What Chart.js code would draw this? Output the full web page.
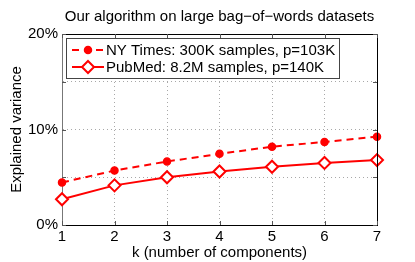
<!DOCTYPE html>
<html><head><meta charset="utf-8">
<script src="https://cdn.jsdelivr.net/npm/chart.js@4"></script>
<style>html,body{margin:0;padding:0;background:#fff}#wrap{width:415px;height:262px}</style>
</head><body><div id="wrap"><canvas id="c" width="415" height="262"></canvas></div>
<script>
const categories = [1, 2, 3, 4, 5, 6, 7];
const nyTimes = [4.45, 5.7, 6.65, 7.45, 8.2, 8.7, 9.25];
const pubMed = [2.7, 4.15, 5.0, 5.6, 6.1, 6.5, 6.8];
const seriesNames = ["NY Times: 300K samples, p=103K", "PubMed: 8.2M samples, p=140K"];
const yTickLabels = { 0: "0%", 10: "10%", 20: "20%" };
const titleText = "Our algorithm on large bag\u2212of\u2212words datasets";
const xTitle = "k (number of components)";
const yTitle = "Explained variance";
const FONT = "'Liberation Sans', Arial, sans-serif";
const FS = 15;

const framePlugin = {
  id: 'frame',
  afterDraw(chart) {
    const ctx = chart.ctx, a = chart.chartArea;
    ctx.save();
    ctx.lineWidth = 1;
    ctx.strokeStyle = '#000';
    ctx.beginPath();
    ctx.moveTo(a.left + 0.5, a.top + 0.5); ctx.lineTo(a.right + 0.5, a.top + 0.5);
    ctx.lineTo(a.right + 0.5, a.bottom + 0.5);
    ctx.stroke();
    const xs = chart.scales.x, ys = chart.scales.y;
    ctx.strokeStyle = '#555';
    ctx.beginPath();
    categories.forEach((c, i) => {
      const px = Math.round(xs.getPixelForValue(i)) + 0.5;
      ctx.moveTo(px, a.bottom); ctx.lineTo(px, a.bottom - 4);
      ctx.moveTo(px, a.top); ctx.lineTo(px, a.top + 4);
    });
    ys.ticks.forEach(t => {
      const py = Math.round(ys.getPixelForValue(t.value)) + 0.5;
      ctx.moveTo(a.left, py); ctx.lineTo(a.left + 4, py);
      ctx.moveTo(a.right, py); ctx.lineTo(a.right - 4, py);
    });
    ctx.stroke();
    ctx.fillStyle = '#000';
    ctx.font = FS + 'px ' + FONT;
    ctx.textAlign = 'center'; ctx.textBaseline = 'middle';
    ctx.fillText(titleText, (a.left + a.right) / 2, 17);
    const lx = 66, ly = 38, lw = 273, lh = 40;
    ctx.fillStyle = '#fff';
    ctx.fillRect(lx, ly, lw, lh);
    ctx.strokeStyle = '#444';
    ctx.strokeRect(lx + 0.5, ly + 0.5, lw, lh);
    const rows = [ly + 12, ly + 29];
    chart.data.datasets.forEach((ds, i) => {
      const y = rows[i];
      ctx.save();
      ctx.strokeStyle = ds.borderColor; ctx.lineWidth = 2;
      ctx.setLineDash(ds.borderDash || []);
      ctx.beginPath(); ctx.moveTo(72, y); ctx.lineTo(104, y); ctx.stroke();
      ctx.restore();
      ctx.save();
      ctx.strokeStyle = ds.pointBorderColor; ctx.fillStyle = ds.pointBackgroundColor;
      ctx.lineWidth = ds.pointBorderWidth;
      if (ds.pointStyle === 'rectRot') {
        const r = ds.pointRadius;
        ctx.beginPath(); ctx.moveTo(88, y - r); ctx.lineTo(88 + r, y); ctx.lineTo(88, y + r); ctx.lineTo(88 - r, y); ctx.closePath();
        ctx.fill(); ctx.stroke();
      } else {
        ctx.beginPath(); ctx.arc(88, y, ds.pointRadius, 0, Math.PI * 2); ctx.fill(); ctx.stroke();
      }
      ctx.restore();
      ctx.fillStyle = '#000'; ctx.textAlign = 'left';
      ctx.font = FS + 'px ' + FONT;
      ctx.fillText(ds.label, 106, y + 1);
    });
    ctx.restore();
  }
};

new Chart(document.getElementById('c'), {
  type: 'line',
  data: {
    labels: categories,
    datasets: [
      { label: seriesNames[0], data: nyTimes, borderColor: '#ff0000', borderWidth: 2, borderDash: [7, 5],
        pointStyle: 'circle', pointRadius: 3.5, pointBorderWidth: 1.5, pointBorderColor: '#ff0000', pointBackgroundColor: '#ff0000', tension: 0 },
      { label: seriesNames[1], data: pubMed, borderColor: '#ff0000', borderWidth: 2,
        pointStyle: 'rectRot', pointRadius: 6, pointBorderWidth: 2, pointBorderColor: '#ff0000', pointBackgroundColor: '#ffffff', tension: 0 }
    ]
  },
  options: {
    responsive: false, animation: false, devicePixelRatio: 1,
    layout: { padding: { top: 34, right: 38, left: 0, bottom: 0 } },
    plugins: { legend: { display: false }, tooltip: { enabled: false } },
    scales: {
      x: {
        type: 'category', offset: false,
        grid: { color: '#a8a8a8', drawTicks: false, lineWidth: 1 },
        border: { color: '#000', width: 1, dash: [1, 3] },
        ticks: { color: '#000', font: { family: FONT, size: FS }, padding: 3, maxRotation: 0 },
        title: { display: true, text: xTitle, color: '#000', font: { family: FONT, size: FS }, padding: { top: -3, bottom: 0 } },
        afterFit(s) { s.height = 37; }
      },
      y: {
        min: 0, max: 20,
        grid: { color: '#a8a8a8', drawTicks: false, lineWidth: 1 },
        border: { color: '#777', width: 1, dash: [1, 3] },
        ticks: { stepSize: 5, color: '#000', font: { family: FONT, size: FS }, padding: 4,
          callback: v => (yTickLabels[v] !== undefined ? yTickLabels[v] : '') },
        title: { display: true, text: yTitle, color: '#000', font: { family: FONT, size: FS }, padding: { top: 8, bottom: 0 } },
        afterFit(s) { s.width = 62; }
      }
    }
  },
  plugins: [framePlugin]
});
</script></body></html>
